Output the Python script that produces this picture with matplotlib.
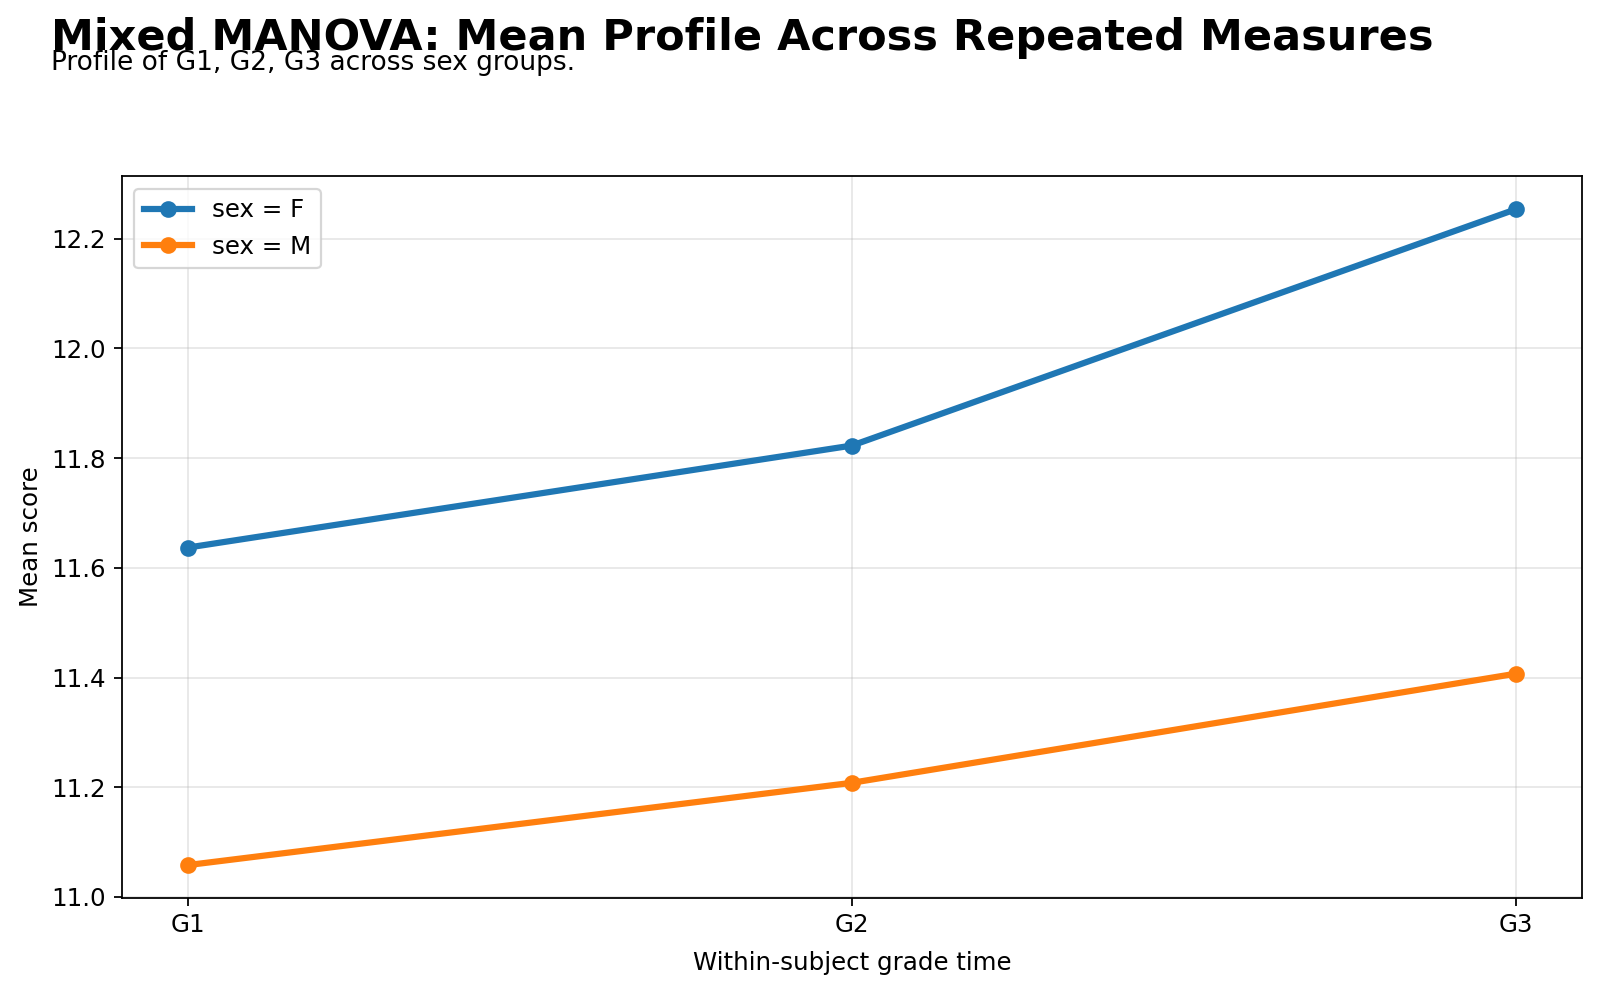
import matplotlib
matplotlib.use('Agg')
import matplotlib.pyplot as plt

times = ['G1', 'G2', 'G3']
mean_f = [11.637, 11.823, 12.254]
mean_m = [11.058, 11.208, 11.407]

plt.rcParams['font.size'] = 11

fig = plt.figure(figsize=(10, 6.19375), dpi=160)
ax = fig.add_axes([0.076, 0.094, 0.913, 0.728])

ax.plot(times, mean_f, marker='o', linewidth=2.8, markersize=6.5, label='sex = F')
ax.plot(times, mean_m, marker='o', linewidth=2.8, markersize=6.5, label='sex = M')

ax.set_xlabel('Within-subject grade time', labelpad=6)
ax.set_ylabel('Mean score')
ax.grid(True, alpha=0.3)
ax.legend(loc='upper left')

fig.text(0.032, 0.9495, 'Mixed MANOVA: Mean Profile Across Repeated Measures',
         fontsize=19.35, fontweight='bold', va='baseline')
fig.text(0.032, 0.9295, 'Profile of G1, G2, G3 across sex groups.', fontsize=11.85, va='baseline')

fig.savefig('out.png', dpi=160)
